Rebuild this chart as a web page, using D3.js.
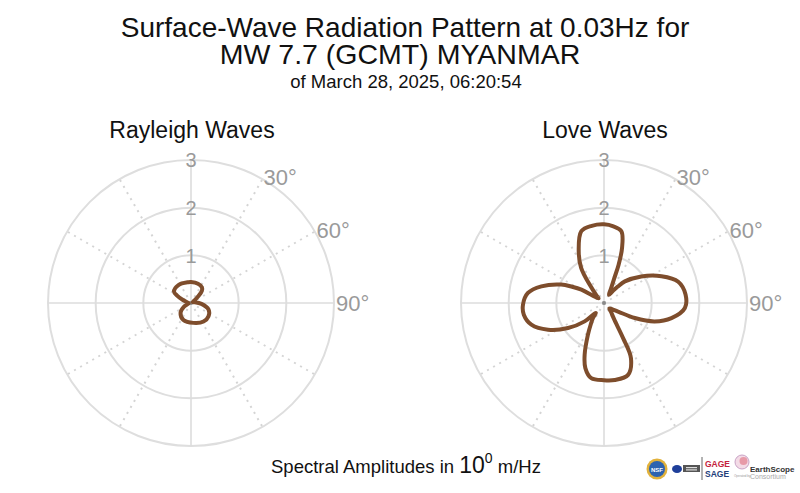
<!DOCTYPE html>
<html>
<head>
<meta charset="utf-8">
<script src="https://cdn.jsdelivr.net/npm/d3@7"></script>
<style>
  body { margin: 0; background: #fff; }
  text { font-family: "Liberation Sans", Arial, Helvetica, sans-serif; }
</style>
</head>
<body>
<script>
// values

var radialTicks = [1, 2, 3];
var angleLabels = [30, 60, 90];
var spokeAngles = [0, 30, 60, 90, 120, 150, 180, 210, 240, 270, 300, 330];

// Rayleigh waves: azimuth (deg) and spectral amplitude
var rayleighAzimuth = [0, 20, 35, 42, 47, 52, 62, 78, 95, 110, 127, 146, 173, 204, 227, 242, 258, 275, 290, 298, 304, 325, 353];
var rayleighAmp     = [0.44, 0.43, 0.40, 0.34, 0.22, 0.10, 0.04, 0.08, 0.22, 0.39, 0.46, 0.47, 0.42, 0.39, 0.30, 0.17, 0.05, 0.06, 0.18, 0.33, 0.43, 0.46, 0.44];

// Love waves: azimuth (deg) and spectral amplitude
var loveAzimuth = [0, 7, 13.6, 18.1, 20.9, 22.6, 26, 31, 36, 40, 44, 54.5, 65, 74, 84, 93.5, 102.6, 110, 116, 121, 127, 135, 142, 148, 151.5, 154, 161.5, 172, 180, 189.6, 196, 200.5, 206.8, 212, 216.3, 219, 222, 226.5, 235.2, 244.5, 253.4, 261.7, 268.8, 277.5, 284.9, 293.3, 297, 300.5, 303, 307, 311, 315, 322, 327, 334, 342.5, 351];
var loveAmp     = [1.65, 1.62, 1.55, 1.22, 0.86, 0.55, 0.33, 0.20, 0.30, 0.45, 0.63, 0.96, 1.33, 1.62, 1.72, 1.70, 1.45, 1.13, 0.72, 0.36, 0.22, 0.16, 0.24, 0.40, 0.85, 1.29, 1.59, 1.63, 1.62, 1.60, 1.42, 1.16, 0.75, 0.52, 0.39, 0.27, 0.30, 0.56, 0.92, 1.30, 1.59, 1.70, 1.70, 1.61, 1.36, 0.98, 0.75, 0.55, 0.30, 0.18, 0.15, 0.22, 0.49, 0.88, 1.21, 1.58, 1.64];

var titleLines = ["Surface-Wave Radiation Pattern at 0.03Hz for", "MW 7.7 (GCMT) MYANMAR"];
var subTitle = "of March 28, 2025, 06:20:54";
var panelNames = ["Rayleigh Waves", "Love Waves"];

// layout
var svgWidth = 800;
var svgHeight = 493;
var outerRadius = 143;
var centerY = 303;
var panelX = [191, 604];
var lineColor = "#7e4d2c";

var svg = d3.select("body")
  .append("svg")
  .attr("width", svgWidth)
  .attr("height", svgHeight);

svg.append("rect")
  .attr("width", svgWidth)
  .attr("height", svgHeight)
  .attr("fill", "#fff");

// titles
var titleX = [405, 400];
var titleSize = [28, 28.5];
svg.selectAll(".title")
  .data(titleLines)
  .enter()
  .append("text")
  .attr("class", "title")
  .attr("x", (d, i) => titleX[i])
  .attr("y", (d, i) => 37 + i * 26.5)
  .attr("text-anchor", "middle")
  .attr("font-size", (d, i) => titleSize[i])
  .attr("fill", "#111")
  .text(d => d);

svg.append("text")
  .attr("x", 406)
  .attr("y", 88)
  .attr("text-anchor", "middle")
  .attr("font-size", 18.5)
  .attr("fill", "#111")
  .text(subTitle);

// scales shared by both polar plots
var rScale = d3.scaleLinear().domain([0, 3]).range([0, outerRadius]);
var aScale = d3.scaleLinear().domain([0, 360]).range([0, 2 * Math.PI]);

var radialLine = d3.lineRadial()
  .angle(d => aScale(d[0]))
  .radius(d => rScale(d[1]))
  .curve(d3.curveCatmullRomClosed.alpha(0.5));

var series = [
  d3.zip(rayleighAzimuth, rayleighAmp),
  d3.zip(loveAzimuth, loveAmp)
];

panelNames.forEach(function(name, i) {
  var g = svg.append("g")
    .attr("transform", `translate(${panelX[i]}, ${centerY})`);

  // subplot title
  svg.append("text")
    .attr("x", panelX[i] + 1)
    .attr("y", 138)
    .attr("text-anchor", "middle")
    .attr("font-size", 23)
    .attr("fill", "#111")
    .text(name);

  // rings
  g.selectAll(".ring")
    .data(radialTicks)
    .enter()
    .append("circle")
    .attr("r", d => rScale(d))
    .attr("fill", "none")
    .attr("stroke", "#dedede")
    .attr("stroke-width", 2);

  // spokes: solid on the axes, dotted between
  g.selectAll(".spoke")
    .data(spokeAngles)
    .enter()
    .append("line")
    .attr("x1", 0)
    .attr("y1", 0)
    .attr("x2", d => d3.pointRadial(aScale(d), rScale(3))[0])
    .attr("y2", d => d3.pointRadial(aScale(d), rScale(3))[1])
    .attr("stroke", d => d % 90 === 0 ? "#dcdcdc" : "#d4d4d4")
    .attr("stroke-width", d => d % 90 === 0 ? 1.6 : 2)
    .attr("stroke-dasharray", d => d % 90 === 0 ? null : "2,5");

  // radial tick labels
  g.selectAll(".rtick")
    .data(radialTicks)
    .enter()
    .append("text")
    .attr("x", 0)
    .attr("y", d => -rScale(d))
    .attr("dy", "0.36em")
    .attr("text-anchor", "middle")
    .attr("font-size", 20)
    .attr("fill", "#9a9a9a")
    .text(d => d);

  // angular labels
  g.selectAll(".atick")
    .data(angleLabels)
    .enter()
    .append("text")
    .attr("x", d => d3.pointRadial(aScale(d), rScale(3) + 2)[0])
    .attr("y", d => d3.pointRadial(aScale(d), rScale(3) + 2)[1])
    .attr("dy", "0.36em")
    .attr("text-anchor", "start")
    .attr("font-size", 22)
    .attr("fill", "#9a9a9a")
    .text(d => d + "°");

  // origin dot
  g.append("circle")
    .attr("r", 2)
    .attr("fill", "#8a8a8a");

  // radiation pattern
  g.append("path")
    .datum(series[i])
    .attr("d", radialLine)
    .attr("fill", "none")
    .attr("stroke", lineColor)
    .attr("stroke-width", 4)
    .attr("stroke-linejoin", "round");
});

// amplitude units
var units = svg.append("text")
  .attr("x", 271)
  .attr("y", 473)
  .attr("font-size", 18.5)
  .attr("fill", "#111");
units.append("tspan").text("Spectral Amplitudes in ");
units.append("tspan").attr("font-size", 23).text("10");
units.append("tspan").attr("font-size", 14).attr("dy", -10).text("0");
units.append("tspan").attr("dy", 10).text(" m/Hz");

// logos (rough)
var logos = svg.append("g");
logos.append("circle").attr("cx", 657).attr("cy", 469).attr("r", 10.5).attr("fill", "#e2b23c");
logos.append("circle").attr("cx", 657).attr("cy", 469).attr("r", 8).attr("fill", "#2d63b0");
logos.append("text").attr("x", 657).attr("y", 471.5).attr("text-anchor", "middle")
  .attr("font-size", 6).attr("font-weight", "bold").attr("fill", "#fff").text("NSF");
logos.append("ellipse").attr("cx", 677).attr("cy", 469).attr("rx", 5).attr("ry", 4).attr("fill", "#1f3f9a");
logos.append("rect").attr("x", 683).attr("y", 465).attr("width", 17).attr("height", 7).attr("fill", "#555");
logos.append("rect").attr("x", 686).attr("y", 467).attr("width", 11).attr("height", 1.2).attr("fill", "#ddd");
logos.append("rect").attr("x", 686).attr("y", 469.3).attr("width", 11).attr("height", 1.2).attr("fill", "#ddd");
logos.append("line").attr("x1", 702).attr("x2", 702).attr("y1", 457).attr("y2", 480)
  .attr("stroke", "#666").attr("stroke-width", 1);
logos.append("text").attr("x", 705).attr("y", 466.5).attr("font-size", 8.5).attr("font-weight", "bold")
  .attr("fill", "#c4213d").text("GAGE");
logos.append("text").attr("x", 705).attr("y", 476.5).attr("font-size", 8.5).attr("font-weight", "bold")
  .attr("fill", "#233e7a").text("SAGE");
logos.append("circle").attr("cx", 742).attr("cy", 462).attr("r", 7).attr("fill", "#f3dbe6")
  .attr("stroke", "#c9a3c6").attr("stroke-width", 1);
logos.append("circle").attr("cx", 743.5).attr("cy", 461).attr("r", 4).attr("fill", "#e79aa8");
logos.append("text").attr("x", 750).attr("y", 472).attr("font-size", 8).attr("font-weight", "bold")
  .attr("fill", "#333").text("EarthScope");
logos.append("text").attr("x", 750).attr("y", 479).attr("font-size", 7)
  .attr("fill", "#aaa").text("Consortium");
logos.append("text").attr("x", 734).attr("y", 477).attr("font-size", 3)
  .attr("fill", "#999").text("Operated by");
</script>
</body>
</html>
